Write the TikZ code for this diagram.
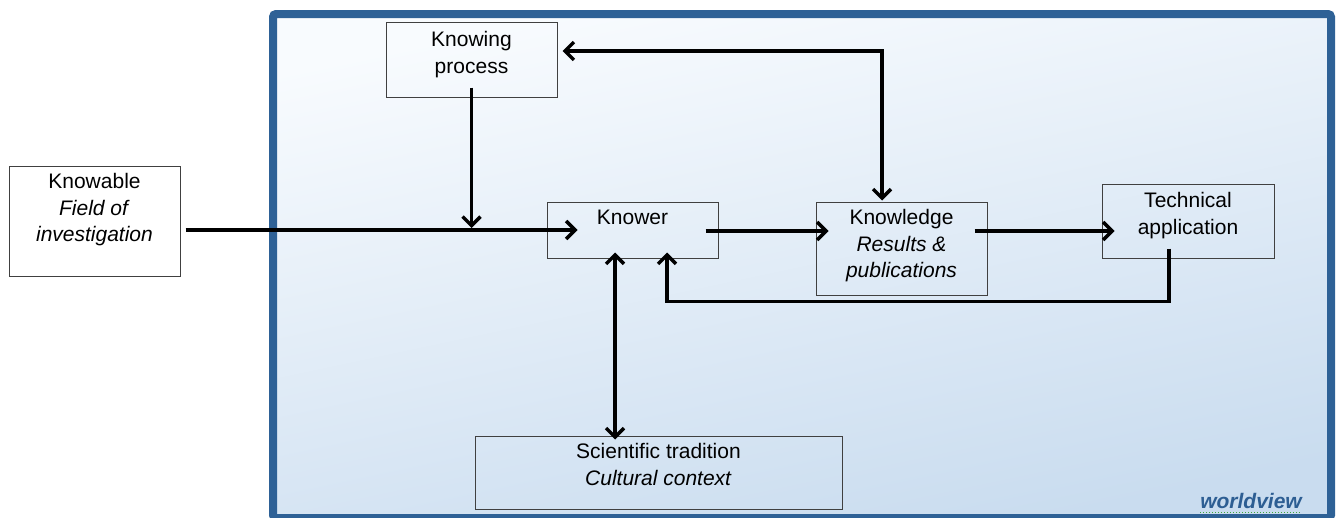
\documentclass[tikz,border=0pt]{standalone}
\usepackage{fontspec}
\setmainfont{Liberation Sans}
\usetikzlibrary{arrows.meta,calc}
\definecolor{frameblue}{HTML}{2E6196}
\definecolor{bgtop}{HTML}{F8FBFE}
\definecolor{bgbot}{HTML}{C9DCEF}
\definecolor{wvblue}{HTML}{2D5E93}
\definecolor{wavegreen}{HTML}{3FA63F}
\begin{document}
\begin{tikzpicture}[x=1pt,y=-1pt,
  >={Straight Barb[length=9pt,width=18pt]},
  box/.style={draw=black!75, line width=1pt, inner sep=0pt},
  lbl/.style={anchor=north, align=center, inner sep=0pt, font=\fontsize{21}{26.5}\selectfont},
  arr/.style={line width=3.5pt, line join=miter}]
\useasboundingbox (0,0) rectangle (1341,517);
% worldview frame
\path[draw=frameblue, line width=8pt, rounded corners=3pt, top color=bgtop, bottom color=bgbot, shading angle=12]
  (273,14) rectangle (1331,518);
% boxes
\node[box, fill=white, minimum width=171pt, minimum height=110pt] (knowable) at (94.5,221) {};
\node[box, minimum width=171pt, minimum height=75pt] (kproc) at (471.5,59.5) {};
\node[box, minimum width=171pt, minimum height=56pt] (knower) at (632.5,230) {};
\node[box, minimum width=171pt, minimum height=93pt] (knowledge) at (901.5,248.5) {};
\node[box, minimum width=172pt, minimum height=74pt] (tech) at (1188,221) {};
\node[box, minimum width=367pt, minimum height=73pt] (sci) at (658.5,472.5) {};
% texts
\node[lbl] (tknowable) at ($(knowable.north)+(0,8)$) {Knowable\\\textit{Field of}\\\textit{investigation}};
\node[lbl] (tkproc) at ($(kproc.north)+(0,10)$) {Knowing\\process};
\node[lbl] (tknower) at ($(knower.north)+(0,8)$) {Knower};
\node[lbl] (tknowledge) at ($(knowledge.north)+(0,8)$) {Knowledge\\\textit{Results \&}\\\textit{publications}};
\node[lbl] (ttech) at ($(tech.north)+(0,9)$) {Technical\\application};
\node[lbl] (tsci) at ($(sci.north)+(0,8)$) {Scientific tradition\\\textit{Cultural context}};
% connectors
\draw[arr,->] ($(knowable.east |- knower.west)+(5,0)$) -- ($(knower.west)+(31,0)$);
\draw[arr,->] ($(kproc.south)+(0,-10)$) -- ($(kproc.south |- knower.west)+(0,-2)$);
\draw[arr,->] ($(knower.east)+(-13,1)$) -- ($(knowledge.west |- knower.east)+(13,1)$);
\draw[arr,->] ($(knowledge.east |- knower.east)+(-13,1)$) -- ($(tech.west |- knower.east)+(13,1)$);
\draw[arr,<->] ($(kproc.east)+(5,-8.5)$) -| ($(knowledge.north)+(-19.5,-1)$);
\draw[arr,->] ($(tech.south)+(-19,-10)$) -- ++(0,53) -| ($(knower.south)+(34.5,-6)$);
\draw[arr,<->] ($(knower.south)+(-17.5,-6)$) -- ($(sci.north)+(-43.5,4)$);
% worldview label
\node[anchor=base, inner sep=0pt, text=wvblue, font=\fontsize{21}{24}\selectfont\bfseries\itshape] (wv) at (1251,508) {worldview};
\draw[wavegreen, line width=1pt, dotted] ($(wv.base west)+(0,4)$) -- ($(wv.base east)+(0,4)$);
\end{tikzpicture}
\end{document}
